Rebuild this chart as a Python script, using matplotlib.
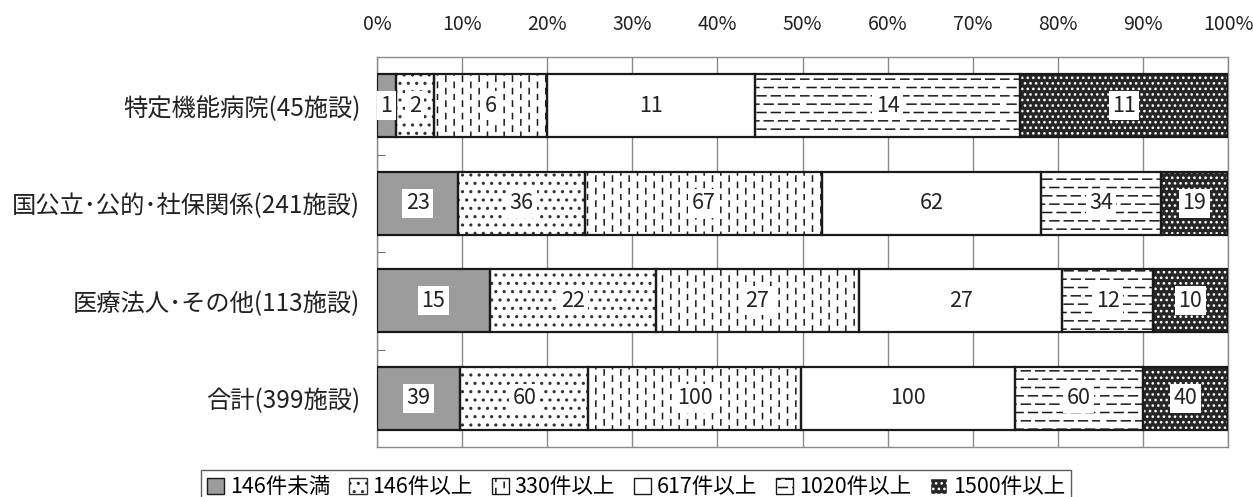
import warnings
import numpy as np
import matplotlib
matplotlib.use("Agg")
import matplotlib.pyplot as plt
from matplotlib import hatch as mhatch
from matplotlib.path import Path
from matplotlib.patches import Patch

warnings.filterwarnings("ignore")

# データ（施設数）
categories = ["特定機能病院(45施設)", "国公立･公的･社保関係(241施設)",
              "医療法人･その他(113施設)", "合計(399施設)"]
legend_labels = ["146件未満", "146件以上", "330件以上", "617件以上", "1020件以上", "1500件以上"]
tokutei = [1, 2, 6, 11, 14, 11]
kokkou = [23, 36, 67, 62, 34, 19]
iryou = [15, 22, 27, 27, 12, 10]
goukei = [39, 60, 100, 100, 60, 40]
x_ticks = [0, 10, 20, 30, 40, 50, 60, 70, 80, 90, 100]


class VDashHatch(mhatch.HatchPatternBase):
    # 短い縦線（互い違い） '!'
    def __init__(self, hatch, density):
        self.ncol = int(hatch.count('!') * density)
        self.nrow = int(self.ncol * 2 / 3)
        self.num_vertices = self.ncol * self.nrow * 2

    def set_vertices_and_codes(self, vertices, codes):
        k = 0
        for i in range(self.ncol):
            x = (i + 0.5) / self.ncol
            for j in range(self.nrow):
                y0 = (j + 0.5 * (i % 2)) / self.nrow
                vertices[k] = (x, y0)
                vertices[k + 1] = (x, y0 + 0.42 / self.nrow)
                codes[k] = Path.MOVETO
                codes[k + 1] = Path.LINETO
                k += 2


class HDashHatch(mhatch.HatchPatternBase):
    # 横の破線（互い違い） '_'
    def __init__(self, hatch, density):
        self.nrow = int(hatch.count('_') * density)
        self.ncol = max(1, int(self.nrow * 7 / 12))
        self.num_vertices = self.ncol * self.nrow * 2

    def set_vertices_and_codes(self, vertices, codes):
        k = 0
        for j in range(self.nrow):
            y = (j + 0.5) / self.nrow
            for i in range(self.ncol):
                x0 = (i + 0.5 * (j % 2)) / self.ncol
                vertices[k] = (x0, y)
                vertices[k + 1] = (x0 + 0.62 / self.ncol, y)
                codes[k] = Path.MOVETO
                codes[k + 1] = Path.LINETO
                k += 2


mhatch._hatch_types.append(VDashHatch)
mhatch._hatch_types.append(HDashHatch)

plt.rcParams['font.family'] = ['Noto Sans CJK JP', 'DejaVu Sans']
plt.rcParams['hatch.linewidth'] = 1.1

counts = np.array([tokutei, kokkou, iryou, goukei], dtype=float)
shares = counts / counts.sum(axis=1, keepdims=True) * 100

faces = ['#9c9c9c', 'white', 'white', 'white', 'white', '#262626']
hatches = [None, '..', '!!', None, '__', '...']
hcolors = ['#1a1a1a', '#333333', '#1a1a1a', '#1a1a1a', '#1a1a1a', 'white']

fig = plt.figure(figsize=(12.53, 4.97), dpi=100)
ax = fig.add_axes([0.3009, 0.1006, 0.6792, 0.7847])

y = np.arange(len(categories))
left = np.zeros(len(categories))
for k in range(6):
    vals = shares[:, k]
    ax.barh(y, vals, left=left, height=0.65, color=faces[k], edgecolor=hcolors[k],
            hatch=hatches[k], linewidth=0, zorder=2)
    ax.barh(y, vals, left=left, height=0.65, fill=False, edgecolor='#1a1a1a',
            linewidth=1.6, zorder=3)
    for i in range(len(categories)):
        ax.text(left[i] + vals[i] / 2, y[i], str(int(counts[i, k])), ha='center', va='center',
                fontsize=15.5, color='#222222', zorder=4,
                bbox=dict(facecolor='white', edgecolor='none', pad=2.5))
    left += vals

ax.set_xlim(0, 100)
ax.set_ylim(len(categories) - 0.5, -0.5)
ax.set_xticks(x_ticks)
ax.set_xticklabels([f"{v}%" for v in x_ticks], fontsize=14, color='#222222')
ax.xaxis.tick_top()
ax.tick_params(axis='x', length=0, pad=16)
ax.set_yticks(y)
ax.set_yticklabels(categories, fontsize=17.5, color='#222222')
ax.tick_params(axis='y', length=0, pad=12)
ax.set_yticks(y[:-1] + 0.5, minor=True)
ax.tick_params(axis='y', which='minor', direction='in', length=6, color='#555555')
ax.xaxis.grid(True, color='#8a8a8a', linewidth=1)
ax.set_axisbelow(True)
for s in ax.spines.values():
    s.set_color('#8a8a8a')
    s.set_linewidth(1)

handles = [Patch(facecolor=faces[k], edgecolor=hcolors[k], hatch=hatches[k], linewidth=1)
           for k in range(6)]
leg = fig.legend(handles, legend_labels, loc='upper center', bbox_to_anchor=(636 / 1253, 27 / 497),
                 ncol=6, fontsize=15.5, frameon=True, fancybox=False, borderaxespad=0,
                 handlelength=0.8, handleheight=0.8, handletextpad=0.25, columnspacing=0.9,
                 borderpad=0.3)
leg.get_frame().set_edgecolor('#333333')
leg.get_frame().set_linewidth(1)

fig.savefig("out.png", dpi=100)
